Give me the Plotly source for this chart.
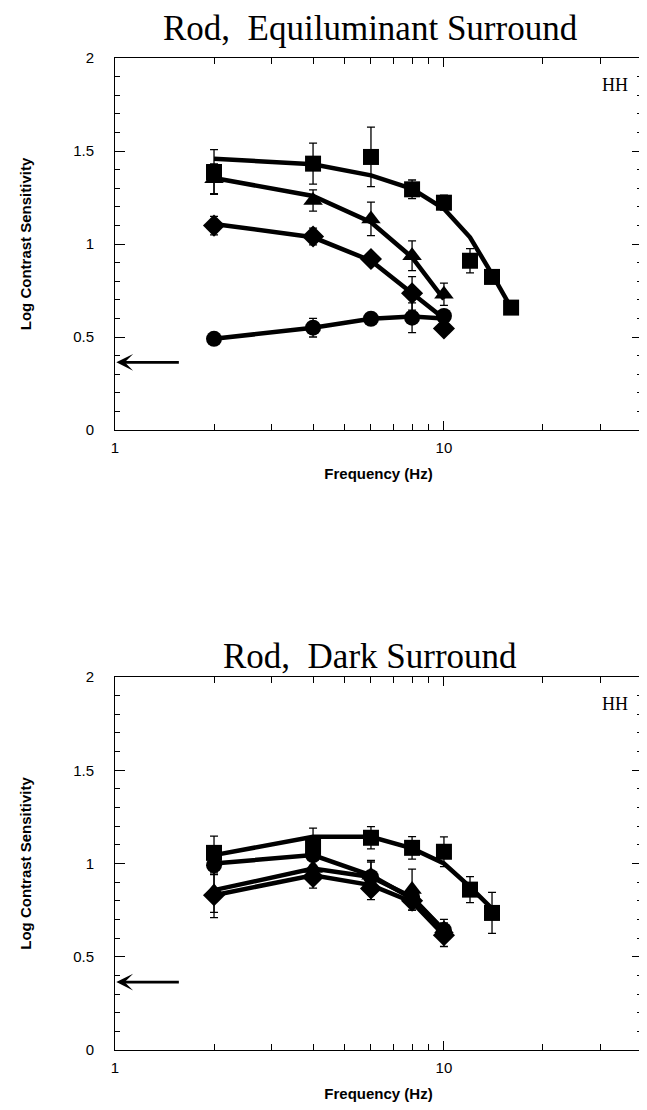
import math
import plotly.graph_objects as go

# ---------------- data ----------------
freq = [2, 4, 6, 8, 10]
freq_sq_top = [2, 4, 6, 8, 10, 12, 14, 16]
freq_sq_bot = [2, 4, 6, 8, 10, 12, 14]

# Top panel: Rod, Equiluminant Surround
top_sq = [1.387, 1.432, 1.468, 1.294, 1.222, 0.910, 0.823, 0.658]
top_sq_err = [0.12, 0.11, 0.16, 0.05, 0.04, 0.065, 0.03, 0.03]
top_sq_fit = [1.459, 1.429, 1.369, 1.297, 1.189, 1.036, 0.838, 0.658]

top_tri = [1.351, 1.234, 1.135, 0.937, 0.730]
top_tri_err = [0.08, 0.057, 0.09, 0.08, 0.06]
top_tri_fit = [1.355, 1.258, 1.117, 0.928, 0.703]

top_dia = [1.099, 1.040, 0.919, 0.735, 0.546]
top_dia_err = [0.05, 0.045, 0.02, 0.09, 0.02]
top_dia_fit = [1.108, 1.036, 0.910, 0.735, 0.600]

top_cir = [0.490, 0.550, 0.598, 0.604, 0.613]
top_cir_err = [0.02, 0.05, 0.02, 0.08, 0.02]
top_cir_fit = [0.490, 0.550, 0.598, 0.610, 0.600]

# Bottom panel: Rod, Dark Surround
bot_sq = [1.057, 1.090, 1.138, 1.084, 1.063, 0.860, 0.735]
bot_sq_err = [0.09, 0.10, 0.06, 0.06, 0.08, 0.07, 0.11]
bot_sq_fit = [1.045, 1.143, 1.143, 1.081, 1.000, 0.875, 0.758]

bot_cir = [0.991, 1.045, 0.928, 0.820, 0.642]
bot_cir_err = [0.05, 0.03, 0.08, 0.04, 0.04]
bot_cir_fit = [1.000, 1.045, 0.937, 0.812, 0.642]

bot_tri = [0.848, 0.973, 0.937, 0.860, 0.650]
bot_tri_err = [0.11, 0.04, 0.08, 0.11, 0.05]
bot_tri_fit = [0.857, 0.973, 0.928, 0.820, 0.642]

bot_dia = [0.830, 0.928, 0.866, 0.800, 0.615]
bot_dia_err = [0.12, 0.06, 0.06, 0.05, 0.06]
bot_dia_fit = [0.830, 0.937, 0.884, 0.794, 0.615]

arrow_level = 0.364
arrow_tail_freq = 1.58

y_tickvals = [0, 0.5, 1, 1.5, 2]
y_ticktext = ["0", "0.5", "1", "1.5", "2"]
x_tickvals = [1, 10]
x_ticktext = ["1", "10"]
x_minor = [2, 3, 4, 5, 6, 7, 8, 9, 20, 30]

titles = ["Rod,\u00a0 Equiluminant Surround", "Rod,\u00a0 Dark Surround"]
subject = "HH"
subject_freq = 33
subject_level = 1.856

# ---------------- figure ----------------
SANS = "Arial, Liberation Sans, sans-serif"
SERIF = "Times New Roman, Liberation Serif, serif"

fig = go.Figure()

def add_series(x, y, err, fit, symbol, size, xa, ya):
    fig.add_trace(go.Scatter(
        x=x, y=fit, mode="lines", xaxis=xa, yaxis=ya,
        line=dict(color="black", width=4.5), showlegend=False, hoverinfo="skip"))
    fig.add_trace(go.Scatter(
        x=x, y=y, mode="markers", xaxis=xa, yaxis=ya,
        marker=dict(symbol=symbol, size=size, color="black"),
        error_y=dict(type="data", array=err, color="black", thickness=1.3, width=4),
        showlegend=False))

# top
add_series(freq, top_cir, top_cir_err, top_cir_fit, "circle", 16, "x", "y")
add_series(freq, top_dia, top_dia_err, top_dia_fit, "diamond", 17, "x", "y")
add_series(freq, top_tri, top_tri_err, top_tri_fit, "triangle-up", 17, "x", "y")
add_series(freq_sq_top, top_sq, top_sq_err, top_sq_fit, "square", 16, "x", "y")
# bottom
add_series(freq, bot_dia, bot_dia_err, bot_dia_fit, "diamond", 17, "x2", "y2")
add_series(freq, bot_tri, bot_tri_err, bot_tri_fit, "triangle-up", 17, "x2", "y2")
add_series(freq, bot_cir, bot_cir_err, bot_cir_fit, "circle", 16, "x2", "y2")
add_series(freq_sq_bot, bot_sq, bot_sq_err, bot_sq_fit, "square", 16, "x2", "y2")

xaxis_common = dict(
    type="log", range=[0, math.log10(40)],
    tickvals=x_tickvals, ticktext=x_ticktext,
    ticks="inside", ticklen=9, tickwidth=1, tickcolor="black",
    minor=dict(tickvals=x_minor, ticks="inside", ticklen=6, tickwidth=1, tickcolor="black"),
    showline=True, linecolor="black", linewidth=1, mirror="allticks",
    showgrid=False, zeroline=False, automargin=False,
    tickfont=dict(family=SANS, size=15, color="black"),
    ticklabelstandoff=4,
    title=dict(text="<b>Frequency (Hz)</b>", font=dict(family=SANS, size=15, color="black"), standoff=13),
)
yaxis_common = dict(
    range=[0, 2],
    tickvals=y_tickvals, ticktext=y_ticktext,
    ticks="inside", ticklen=10, tickwidth=1, tickcolor="black",
    minor=dict(dtick=0.1, ticks="inside", ticklen=5, tickwidth=1, tickcolor="black"),
    showline=True, linecolor="black", linewidth=1, mirror="allticks",
    showgrid=False, zeroline=False, automargin=False,
    tickfont=dict(family=SANS, size=15, color="black"),
    ticklabelstandoff=17,
    title=dict(text="<b>Log Contrast Sensitivity</b>", font=dict(family=SANS, size=15, color="black"), standoff=37),
)

# the page body adds an 8 px offset; margins compensate for it
fig.update_layout(
    width=647, height=1110,
    margin=dict(l=107, r=13, t=50, b=68, autoexpand=False),
    plot_bgcolor="white", paper_bgcolor="white",
    showlegend=False,
    xaxis=dict(**xaxis_common, domain=[0, 1], anchor="y"),
    yaxis=dict(**yaxis_common, domain=[0.625, 1.0], anchor="x"),
    xaxis2=dict(**xaxis_common, domain=[0, 1], anchor="y2"),
    yaxis2=dict(**yaxis_common, domain=[0.0, 0.376], anchor="x2"),
)

annotations = []
for title, ydom in zip(titles, [1.030, 0.397]):
    annotations.append(dict(
        text=title, xref="paper", yref="paper", x=0.484, y=ydom,
        showarrow=False, xanchor="center", yanchor="middle",
        font=dict(family=SERIF, size=35, color="black")))
for xr, yr in [("x", "y"), ("x2", "y2")]:
    annotations.append(dict(
        text=subject, xref=xr, yref=yr, x=math.log10(subject_freq), y=subject_level,
        showarrow=False, xanchor="center", yanchor="middle",
        font=dict(family=SERIF, size=18, color="black")))
    annotations.append(dict(
        text="", xref=xr, yref=yr, axref=xr, ayref=yr,
        x=0.004, y=arrow_level, ax=math.log10(arrow_tail_freq), ay=arrow_level,
        showarrow=True, arrowhead=3, arrowsize=1.0, arrowwidth=2.8, arrowcolor="black"))
fig.update_layout(annotations=annotations)

fig.write_html("out.html")
